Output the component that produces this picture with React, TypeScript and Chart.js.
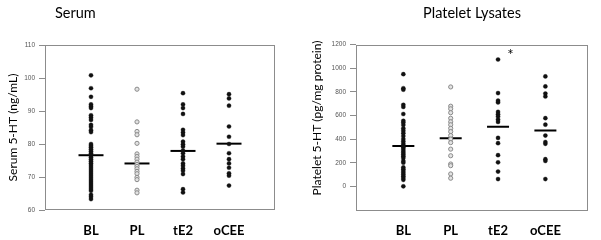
import React, { useEffect, useRef } from "react";
import { Chart, registerables } from "chart.js";

Chart.register(...registerables);

const categories = ["BL", "PL", "tE2", "oCEE"];

// Serum 5-HT (ng/mL)
const serumBL = [100.8, 96.9, 94.3, 92.0, 91.4, 90.9, 88.7, 88.0, 87.3, 85.8, 85.2, 84.2, 83.6, 80.0, 79.5, 79.0, 78.4, 77.8, 77.2, 76.6, 76.0, 75.4, 74.8, 74.2, 73.6, 73.0, 72.4, 71.8, 71.2, 70.6, 70.0, 69.4, 68.8, 68.2, 67.6, 67.0, 66.4, 65.8, 64.6, 64.0, 63.3];
const serumPL = [96.6, 86.7, 83.8, 82.8, 80.2, 77.0, 76.2, 75.4, 74.5, 73.8, 73.2, 72.5, 71.7, 71.0, 69.9, 69.2, 66.0, 65.2];
const serumTE2 = [95.4, 92.0, 90.9, 89.1, 84.3, 83.5, 82.7, 80.7, 79.9, 79.2, 78.0, 77.2, 76.2, 75.4, 74.1, 73.4, 72.6, 71.9, 70.9, 66.3, 65.3];
const serumOCEE = [95.1, 93.8, 91.6, 85.3, 82.2, 80.0, 77.2, 75.4, 74.1, 72.8, 71.1, 70.4, 67.4];
const serumMeans = [76.6, 74.1, 77.9, 80.1];
const serumTicks = [60, 70, 80, 90, 100, 110];

// Platelet 5-HT (pg/mg protein)
const plateletBL = [949, 830, 818, 690, 672, 612, 555, 540, 520, 490, 470, 450, 425, 400, 380, 360, 345, 330, 315, 300, 285, 270, 255, 240, 215, 200, 160, 145, 130, 115, 100, 85, 70, 55, 0];
const plateletPL = [841, 678, 656, 623, 576, 546, 521, 491, 463, 430, 400, 370, 315, 259, 189, 175, 105, 69];
const plateletTE2 = [1073, 789, 725, 710, 630, 610, 590, 565, 545, 410, 365, 264, 203, 125, 62];
const plateletOCEE = [930, 845, 785, 760, 577, 522, 430, 375, 360, 230, 215, 62];
const plateletMeans = [342, 408, 505, 472];
const plateletTicks = [0, 200, 400, 600, 800, 1000, 1200];

const BLACK = "#111111";
const GREY_EDGE = "#8a8a8a";
const GREY_FILL = "#e2e2e2";

type PanelCfg = {
  series: number[][];
  means: number[];
  ticks: number[];
  yMin: number;
  yMax: number;
  xMax: number;
  axisWidth: number;
  padRight: number;
  padTop: number;
  meanRadius: number;
  title: string;
  titleX: number;
  titleAlign: CanvasTextAlign;
  yTitle: string;
  yTitleX: number;
  yTitleY: number;
  star?: { x: number; y: number };
};

function buildDatasets(cfg: PanelCfg) {
  const ds: any[] = cfg.series.map((vals, i) => {
    const grey = i === 1;
    return {
      data: vals.map((v) => ({ x: i + 1, y: v })),
      pointRadius: 2.1,
      pointBackgroundColor: grey ? GREY_FILL : BLACK,
      pointBorderColor: grey ? GREY_EDGE : BLACK,
      pointBorderWidth: grey ? 1 : 0.3,
      showLine: false,
    };
  });
  ds.push({
    data: cfg.means.map((v, i) => ({ x: i + 1, y: v })),
    pointStyle: "line",
    pointRadius: cfg.meanRadius,
    pointBorderColor: "#000",
    pointBorderWidth: 2,
    showLine: false,
  });
  return ds;
}

function makeDecorPlugin(cfg: PanelCfg) {
  return {
    id: "decor",
    beforeDatasetsDraw(chart: any) {
      const { ctx, chartArea } = chart;
      ctx.save();
      ctx.strokeStyle = "#8c8c8c";
      ctx.lineWidth = 1;
      ctx.strokeRect(
        Math.round(chartArea.left) + 0.5,
        Math.round(chartArea.top) + 0.5,
        Math.round(chartArea.right - chartArea.left) - 1,
        Math.round(chartArea.bottom - chartArea.top) - 1
      );
      ctx.restore();
    },
    afterDraw(chart: any) {
      const { ctx, chartArea } = chart;
      ctx.save();
      ctx.fillStyle = "#000";
      ctx.font = "14.5px Lato";
      ctx.textBaseline = "middle";
      ctx.textAlign = cfg.titleAlign;
      const tx = cfg.titleAlign === "center" ? (chartArea.left + chartArea.right) / 2 : cfg.titleX;
      ctx.fillText(cfg.title, tx, 13);

      ctx.save();
      ctx.translate(cfg.yTitleX, cfg.yTitleY);
      ctx.rotate(-Math.PI / 2);
      ctx.font = "12px Lato";
      ctx.textAlign = "center";
      ctx.textBaseline = "middle";
      ctx.fillText(cfg.yTitle, 0, 0);
      ctx.restore();

      if (cfg.star) {
        const sx = chart.scales.x.getPixelForValue(cfg.star.x);
        const sy = chart.scales.y.getPixelForValue(cfg.star.y);
        ctx.font = "15px Lato";
        ctx.textAlign = "center";
        ctx.textBaseline = "middle";
        ctx.fillText("*", sx, sy + 4);
      }
      ctx.restore();
    },
  };
}

function Panel({ cfg, width }: { cfg: PanelCfg; width: number }) {
  const ref = useRef<HTMLCanvasElement | null>(null);
  useEffect(() => {
    if (!ref.current) return;
    const chart = new Chart(ref.current, {
      type: "scatter",
      data: { datasets: buildDatasets(cfg) },
      options: {
        animation: false,
        responsive: false,
        maintainAspectRatio: false,
        devicePixelRatio: 1,
        events: [],
        layout: { padding: { left: 0, right: cfg.padRight, top: cfg.padTop, bottom: 0 } },
        plugins: {
          legend: { display: false },
          tooltip: { enabled: false },
          title: { display: false },
        },
        scales: {
          x: {
            type: "linear",
            min: 0,
            max: cfg.xMax,
            afterBuildTicks: (s: any) => {
              s.ticks = categories.map((_, i) => ({ value: i + 1 }));
            },
            afterFit: (s: any) => {
              s.height = 30;
            },
            ticks: {
              autoSkip: false,
              maxRotation: 0,
              padding: 13,
              color: "#000",
              font: { family: "Lato", weight: "bold", size: 13 },
              callback: (v: any) => categories[Math.round(Number(v)) - 1] ?? "",
            },
            grid: { display: false, drawTicks: false },
            border: { display: false },
          },
          y: {
            type: "linear",
            min: cfg.yMin,
            max: cfg.yMax,
            afterBuildTicks: (s: any) => {
              s.ticks = cfg.ticks.map((v) => ({ value: v }));
            },
            afterFit: (s: any) => {
              s.width = cfg.axisWidth;
            },
            ticks: {
              padding: 4,
              color: "#555",
              font: { family: "Liberation Sans", size: 6.5 },
              callback: (v: any) => String(v),
            },
            grid: { drawOnChartArea: false, drawTicks: true, tickLength: 6, color: "#8c8c8c" },
            border: { display: false },
          },
        },
      },
      plugins: [makeDecorPlugin(cfg)],
    } as any);
    return () => chart.destroy();
  }, [cfg]);
  return <canvas ref={ref} width={width} height={240} style={{ width, height: 240, display: "block" }} />;
}

const serumCfg: PanelCfg = {
  series: [serumBL, serumPL, serumTE2, serumOCEE],
  means: serumMeans,
  ticks: serumTicks,
  yMin: 60,
  yMax: 110,
  xMax: 5,
  axisWidth: 45,
  padRight: 25,
  padTop: 45,
  meanRadius: 12.5,
  title: "Serum",
  titleX: 55,
  titleAlign: "left",
  yTitle: "Serum 5-HT (ng/mL)",
  yTitleX: 13,
  yTitleY: 127.5,
};

const plateletCfg: PanelCfg = {
  series: [plateletBL, plateletPL, plateletTE2, plateletOCEE],
  means: plateletMeans,
  ticks: plateletTicks,
  yMin: -200,
  yMax: 1200,
  xMax: 4.9,
  axisWidth: 56,
  padRight: 9,
  padTop: 44.5,
  meanRadius: 11,
  title: "Platelet Lysates",
  titleX: 0,
  titleAlign: "center",
  yTitle: "Platelet 5-HT (pg/mg protein)",
  yTitleX: 17.5,
  yTitleY: 118,
  star: { x: 3.26, y: 1140 },
};

export default function App() {
  return (
    <div style={{ position: "absolute", left: 0, top: 0, width: 601, height: 240, display: "flex", background: "#fff" }}>
      <Panel cfg={serumCfg} width={300} />
      <Panel cfg={plateletCfg} width={301} />
    </div>
  );
}
